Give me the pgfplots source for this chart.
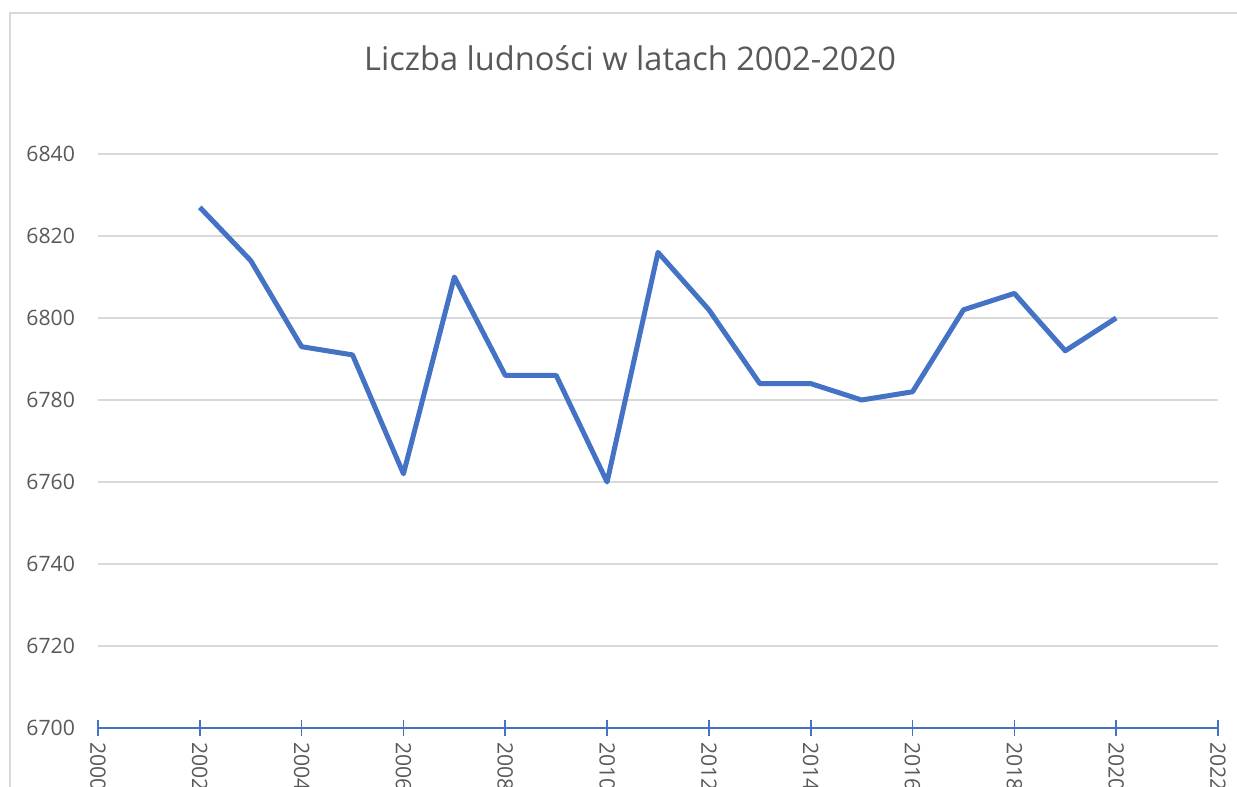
\documentclass[border=0pt]{standalone}
\usepackage{pgfplots}
\pgfplotsset{compat=1.18}
\usepackage{fontspec}
\setmainfont{Open Sans}
\definecolor{lineblue}{HTML}{4472C4}
\definecolor{gridgray}{HTML}{D9D9D9}
\definecolor{textgray}{HTML}{595959}
\begin{document}
\begin{tikzpicture}
\useasboundingbox (-49pt,-29.5pt) rectangle (569.5pt,364pt);
\clip (-49pt,-29.5pt) rectangle (569.5pt,364pt);
\draw[gridgray, line width=0.75pt] (-44pt,-60pt) -- (-44pt,357.5pt) -- (600pt,357.5pt);
\node[textgray, font=\fontsize{16.3}{19}\selectfont] at (266pt,335pt) {Liczba ludności w latach 2002-2020};
\begin{axis}[
  at={(0,0)}, anchor=south west,
  scale only axis, width=560pt, height=287pt,
  xmin=2000, xmax=2022, ymin=6700, ymax=6840,
  xtick={2000,2002,...,2022},
  ytick={6700,6720,...,6840},
  /pgf/number format/assume math mode=true,
  /pgf/number format/set thousands separator={},
  axis x line*=bottom, axis y line*=left,
  y axis line style={draw=none},
  ytick style={draw=none},
  ymajorgrids, major grid style={gridgray, line width=0.6pt},
  x axis line style={lineblue, line width=0.8pt, -},
  xtick style={lineblue, line width=0.8pt},
  xtick align=center, major tick length=7.5pt,
  tick label style={textgray, font=\fontsize{10.6}{13}\selectfont},
  xticklabel style={rotate=-90, anchor=west},
  xticklabel shift=0pt,
  yticklabel style={anchor=east},
  yticklabel shift=8pt,
  clip=false,
]
\addplot[lineblue, line width=2.5pt, line join=round] coordinates {
(2002,6827) (2003,6814) (2004,6793) (2005,6791) (2006,6762) (2007,6810)
(2008,6786) (2009,6786) (2010,6760) (2011,6816) (2012,6802) (2013,6784)
(2014,6784) (2015,6780) (2016,6782) (2017,6802) (2018,6806) (2019,6792)
(2020,6800)};
\end{axis}
\end{tikzpicture}
\end{document}
